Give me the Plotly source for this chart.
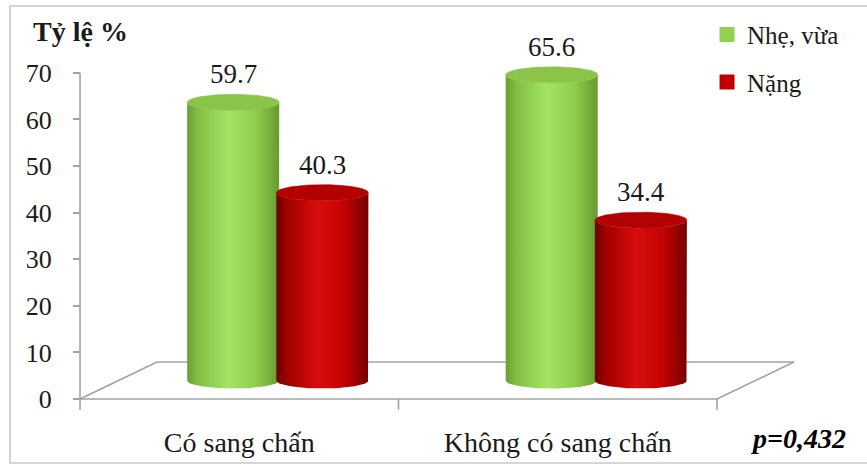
import numpy as np
import plotly.graph_objects as go

# ---- data -------------------------------------------------------------
categories = ["Có sang chấn", "Không có sang chấn"]
series_names = ["Nhẹ, vừa", "Nặng"]
mild_moderate = [59.7, 65.6]
severe = [40.3, 34.4]
y_ticks = [0, 10, 20, 30, 40, 50, 60, 70]
axis_title = "Tỷ lệ %"
p_value_text = "p=0,432"

# ---- geometry / style -------------------------------------------------
W, H = 867, 466
X_RANGE = [-0.7512, 1.9710]       # category units
Y_RANGE = [-14.378, 85.622]       # percent units
DEPTH_U, DEPTH_V = 0.242, 7.94    # floor depth (oblique projection)
BAR_OFFSETS = [-0.14, 0.14]
RX, RY = 0.1445, 1.72             # cylinder ellipse radii
GRID_GRAY = "#a3a3a3"
FONT = "'Liberation Serif', 'Times New Roman', Tinos, 'DejaVu Serif', serif"

styles = [
    dict(body=[[0, "#6b9f33"], [0.12, "#82bf44"], [0.45, "#a3e464"],
               [0.75, "#8fcd4e"], [1, "#679a2e"]],
         top="#8ac449", swatch="#92d050"),
    dict(body=[[0, "#6a0000"], [0.12, "#a00000"], [0.45, "#d80d0d"],
               [0.75, "#c00202"], [1, "#740000"]],
         top="#b30000", swatch="#c00000"),
]

fig = go.Figure()

# floor of the 3D plot area
edges = np.arange(len(categories) + 1) - 0.5
fx, fy = [], []
x_lo, x_hi = edges[0], edges[-1]
for seg in [((x_lo, 0), (x_hi, 0)),
            ((x_lo, 0), (x_lo + DEPTH_U, DEPTH_V)),
            ((x_lo + DEPTH_U, DEPTH_V), (x_hi + DEPTH_U, DEPTH_V)),
            ((x_hi, 0), (x_hi + DEPTH_U, DEPTH_V))]:
    fx += [seg[0][0], seg[1][0], None]
    fy += [seg[0][1], seg[1][1], None]
for e in edges:                     # category separator ticks
    fx += [e, e, None]
    fy += [0, -2.3, None]
fig.add_trace(go.Scatter(x=fx, y=fy, mode="lines", showlegend=False,
                         hoverinfo="skip",
                         line=dict(color=GRID_GRAY, width=1.6)))
# value axis line
fig.add_trace(go.Scatter(x=[x_lo, x_lo], y=[min(y_ticks), max(y_ticks)],
                         mode="lines", showlegend=False, hoverinfo="skip",
                         line=dict(color=GRID_GRAY, width=1.6)))

t_front = np.linspace(np.pi, 2 * np.pi, 48)
t_full = np.linspace(0, 2 * np.pi, 96)


def add_cylinder(xc, value, style):
    base = DEPTH_V / 2
    top = base + value
    ax = xc + RX * np.cos(t_front)
    ay = RY * np.sin(t_front)
    xs = np.concatenate([ax, ax[::-1], ax[:1]])
    ys = np.concatenate([top + ay, base + ay[::-1], [top]])
    fig.add_trace(go.Scatter(
        x=xs, y=ys, mode="lines", fill="toself", showlegend=False,
        hoverinfo="skip", line=dict(width=0),
        fillgradient=dict(type="horizontal", colorscale=style["body"])))
    fig.add_trace(go.Scatter(
        x=xc + RX * np.cos(t_full), y=top + RY * np.sin(t_full),
        mode="lines", fill="toself", fillcolor=style["top"],
        line=dict(width=0.6, color=style["top"]),
        showlegend=False, hoverinfo="skip"))
    fig.add_annotation(x=xc, y=top, text=f"{value:.1f}", showarrow=False,
                       yshift=28, font=dict(size=27, family=FONT,
                                            color="#1a1a1a"))


for ci in range(len(categories)):
    for si, values in enumerate([mild_moderate, severe]):
        xc = ci + BAR_OFFSETS[si] + DEPTH_U / 2
        add_cylinder(xc, values[ci], styles[si])

# legend entries
for si, name in enumerate(series_names):
    fig.add_trace(go.Scatter(
        x=[None], y=[None], mode="markers", name=name,
        legendgroup=name,
        marker=dict(symbol="square", size=15, color=styles[si]["swatch"])))

x_span = X_RANGE[1] - X_RANGE[0]
y_span = Y_RANGE[1] - Y_RANGE[0]

fig.update_layout(
    width=W, height=H,
    margin=dict(l=0, r=0, t=0, b=0),
    paper_bgcolor="white", plot_bgcolor="white",
    font=dict(family=FONT, color="#1a1a1a"),
    xaxis=dict(range=X_RANGE, showgrid=False, zeroline=False,
               showline=False, tickvals=list(range(len(categories))),
               ticktext=categories, ticks="", anchor="free",
               position=(0 - Y_RANGE[0]) / y_span,
               ticklabelstandoff=24, automargin=False,
               tickfont=dict(size=28, family=FONT, color="#1a1a1a")),
    yaxis=dict(range=Y_RANGE, showgrid=False, zeroline=False,
               showline=False, tickvals=y_ticks, ticks="outside",
               ticklen=7, tickwidth=1.6, tickcolor=GRID_GRAY,
               anchor="free", position=(x_lo - X_RANGE[0]) / x_span,
               ticklabelstandoff=16, automargin=False,
               tickfont=dict(size=26, family=FONT, color="#1a1a1a")),
    showlegend=True,
    legend=dict(x=0.8155, y=0.975, xanchor="left", yanchor="top",
                font=dict(size=25, family=FONT, color="#1a1a1a"),
                tracegroupgap=12, bgcolor="rgba(0,0,0,0)"),
    shapes=[dict(type="rect", xref="paper", yref="paper",
                 x0=10 / W, x1=1.02, y0=(H - 463) / H, y1=(H - 6) / H,
                 line=dict(color="#c9c9c9", width=1.6), layer="below")],
)

fig.add_annotation(x=31 / W, y=1 - 31 / H, xref="paper", yref="paper",
                   text=f"<b>{axis_title}</b>", showarrow=False,
                   xanchor="left", yanchor="middle",
                   font=dict(size=28, family=FONT, color="#1a1a1a"))
fig.add_annotation(x=848 / W, y=1 - 438 / H, xref="paper", yref="paper",
                   text=f"<b><i>{p_value_text}</i></b>", showarrow=False,
                   xanchor="right", yanchor="middle",
                   font=dict(size=28, family=FONT, color="#000000"))

fig.write_html("out.html")
